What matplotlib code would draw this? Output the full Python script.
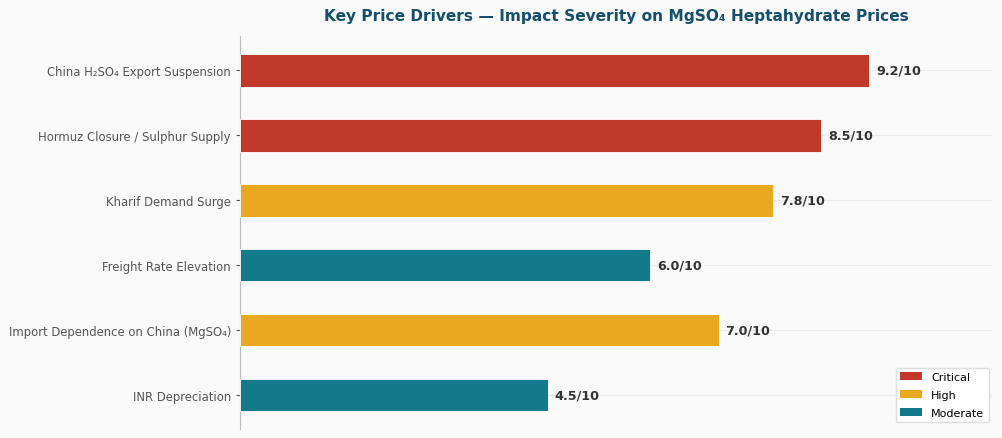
import matplotlib.pyplot as plt
from matplotlib.patches import Patch

drivers = ["China H\u2082SO\u2084 Export Suspension", "Hormuz Closure / Sulphur Supply",
           "Kharif Demand Surge", "Freight Rate Elevation",
           "Import Dependence on China (MgSO\u2084)", "INR Depreciation"]
scores = [9.2, 8.5, 7.8, 6.0, 7.0, 4.5]
levels = ["Critical", "Critical", "High", "Moderate", "High", "Moderate"]
level_colors = {"Critical": "#c0392b", "High": "#e8a820", "Moderate": "#127a8a"}

bg = "#fafafa"
fig = plt.figure(figsize=(10.03, 4.39), dpi=100, facecolor=bg)
ax = fig.add_axes([0.2393, 0.02, 0.75, 0.895])
ax.set_facecolor(bg)

ypos = list(range(len(drivers)))
colors = [level_colors[l] for l in levels]
ax.barh(ypos, scores, height=0.5, color=colors, edgecolor="white", linewidth=0.6, zorder=3)
ax.set_yticks(ypos)
ax.set_yticklabels(drivers, fontsize=8.4, color="#555555")
ax.invert_yaxis()
ax.set_xlim(0, 11)

# labels at end of bars
for y, s in zip(ypos, scores):
    ax.text(s + 0.1, y, "%.1f/10" % s, va="center", ha="left", fontsize=9.2,
            fontweight="bold", color="#333333", zorder=4)

ax.grid(axis="y", color="#ececec", linewidth=0.8, zorder=0)
ax.set_xticks([])
for sp in ["top", "right", "bottom"]:
    ax.spines[sp].set_visible(False)
ax.spines["left"].set_color("#bbbbbb")
ax.tick_params(axis="y", length=3, color="#555555")

ax.set_title("Key Price Drivers \u2014 Impact Severity on MgSO\u2084 Heptahydrate Prices",
             fontsize=11.1, fontweight="bold", color="#154f6b", pad=12)

handles = [Patch(facecolor=level_colors[k], label=k) for k in ["Critical", "High", "Moderate"]]
ax.legend(handles=handles, loc="lower right", fontsize=8, framealpha=1,
          edgecolor="#dddddd", handlelength=2, labelspacing=0.7,
          bbox_to_anchor=(1.0, 0.01), borderaxespad=0.3)

fig.savefig("out.png", dpi=100, facecolor=bg)
